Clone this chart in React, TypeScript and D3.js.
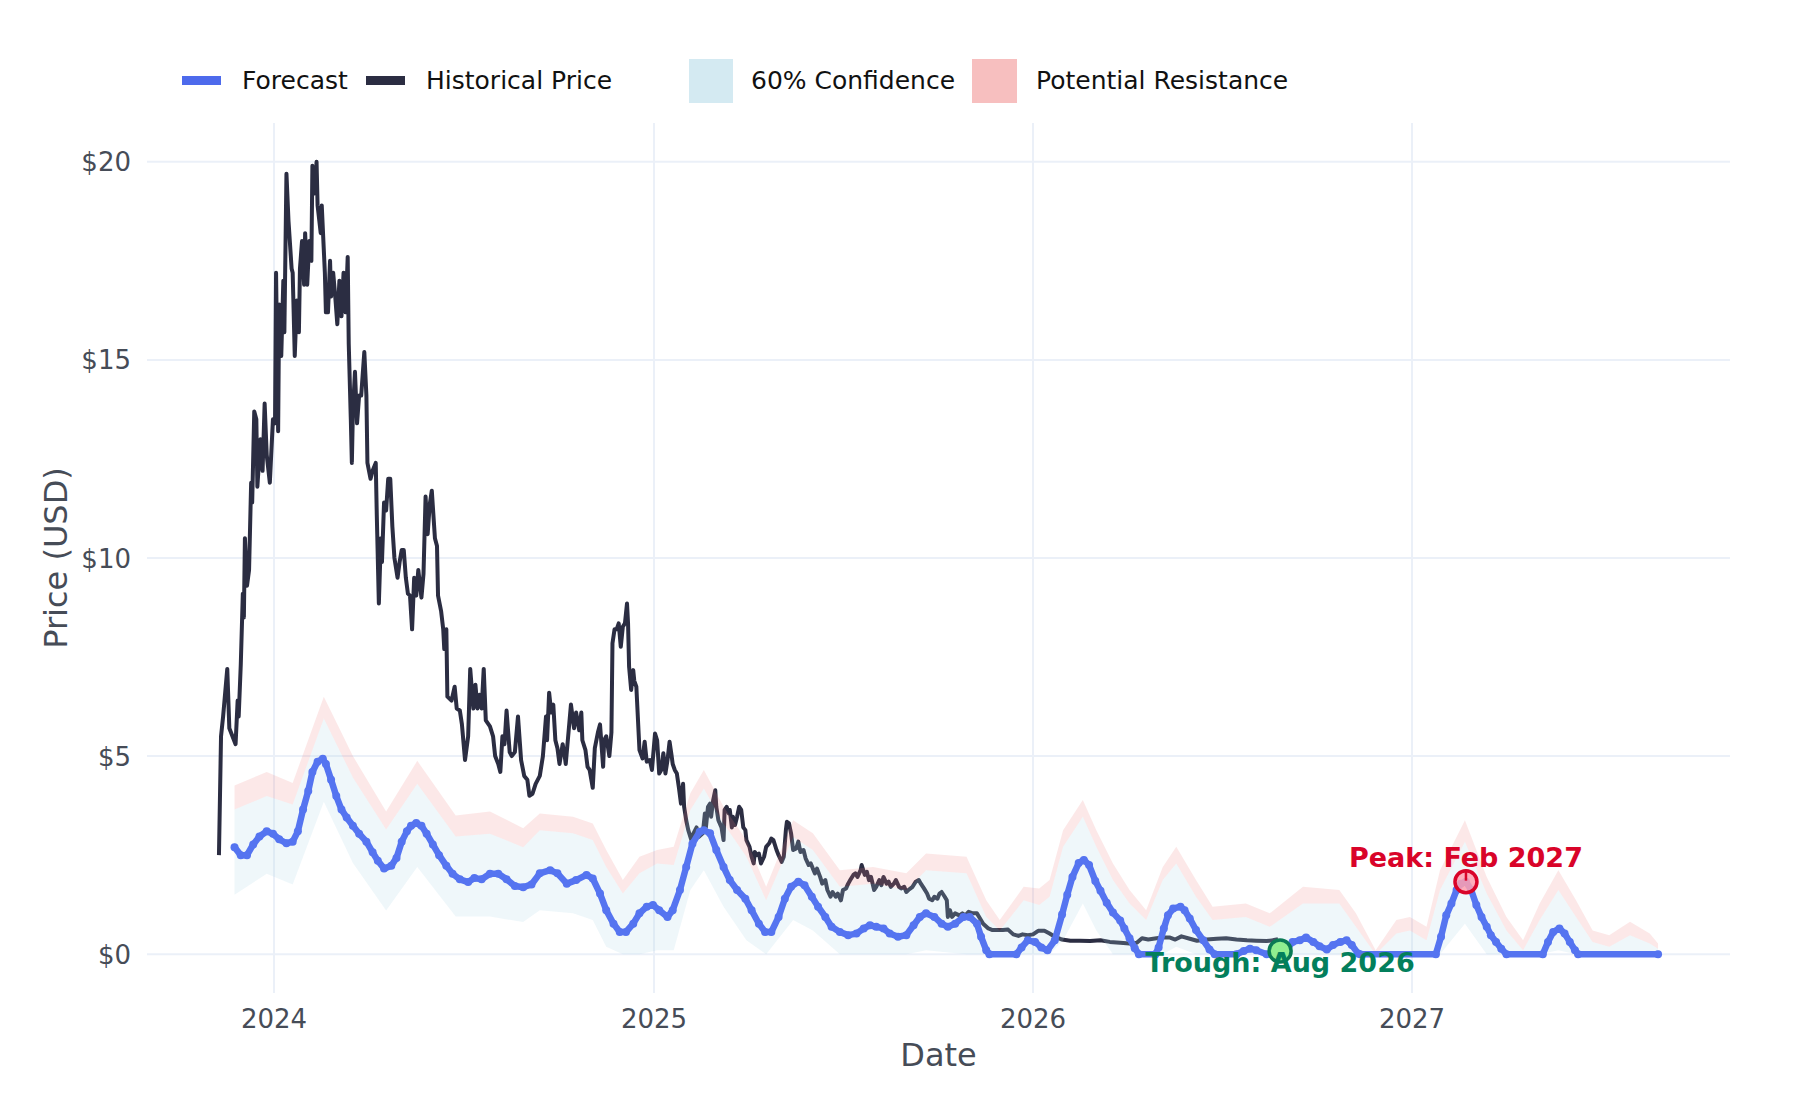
import * as d3 from 'd3';

type Point = [string, number];
// date, 60% lower, 60% upper, resistance top
type BandRow = [string, number, number, number];

const historical: Point[] = [
  ['2023-11-09', 2.5], ['2023-11-11', 5.5], ['2023-11-13', 6.0], ['2023-11-17', 7.2], ['2023-11-19', 5.7],
  ['2023-11-22', 5.5], ['2023-11-25', 5.3], ['2023-11-27', 6.4], ['2023-11-28', 6.0], ['2023-11-30', 7.3],
  ['2023-12-02', 9.1], ['2023-12-03', 8.5], ['2023-12-04', 10.5], ['2023-12-06', 9.3], ['2023-12-08', 9.7],
  ['2023-12-10', 11.9], ['2023-12-11', 11.4], ['2023-12-13', 13.7], ['2023-12-15', 13.5], ['2023-12-16', 11.8],
  ['2023-12-19', 13.0], ['2023-12-21', 12.2], ['2023-12-23', 13.9], ['2023-12-25', 12.6], ['2023-12-28', 11.9],
  ['2023-12-31', 13.5], ['2024-01-02', 13.4], ['2024-01-03', 17.2], ['2024-01-05', 13.2], ['2024-01-06', 16.4],
  ['2024-01-08', 15.1], ['2024-01-10', 17.0], ['2024-01-11', 15.7], ['2024-01-13', 19.7], ['2024-01-15', 18.5],
  ['2024-01-18', 17.3], ['2024-01-19', 17.2], ['2024-01-21', 15.1], ['2024-01-23', 16.5], ['2024-01-25', 15.7],
  ['2024-01-26', 17.3], ['2024-01-28', 18.0], ['2024-01-30', 16.9], ['2024-01-31', 18.2], ['2024-02-02', 16.9],
  ['2024-02-04', 18.0], ['2024-02-06', 17.5], ['2024-02-07', 19.9], ['2024-02-09', 19.2], ['2024-02-11', 20.0],
  ['2024-02-12', 18.9], ['2024-02-15', 18.2], ['2024-02-16', 18.9], ['2024-02-19', 17.2], ['2024-02-20', 16.2],
  ['2024-02-22', 16.2], ['2024-02-24', 17.5], ['2024-02-25', 16.6], ['2024-02-27', 17.2], ['2024-02-29', 16.6],
  ['2024-03-02', 15.9], ['2024-03-04', 17.0], ['2024-03-06', 16.1], ['2024-03-08', 17.2], ['2024-03-10', 16.2],
  ['2024-03-12', 17.6], ['2024-03-13', 15.4], ['2024-03-15', 13.5], ['2024-03-16', 12.4], ['2024-03-17', 13.7],
  ['2024-03-19', 14.7], ['2024-03-21', 13.4], ['2024-03-23', 14.1], ['2024-03-25', 14.1], ['2024-03-28', 15.2],
  ['2024-03-30', 14.1], ['2024-03-31', 12.4], ['2024-04-03', 12.0], ['2024-04-05', 12.2], ['2024-04-08', 12.4],
  ['2024-04-09', 11.1], ['2024-04-11', 8.85], ['2024-04-13', 10.5], ['2024-04-14', 9.9], ['2024-04-16', 11.4],
  ['2024-04-18', 11.2], ['2024-04-20', 12.0], ['2024-04-22', 12.0], ['2024-04-24', 10.8], ['2024-04-26', 10.0],
  ['2024-04-29', 9.5], ['2024-05-01', 9.9], ['2024-05-03', 10.2], ['2024-05-05', 10.2], ['2024-05-07', 9.5],
  ['2024-05-09', 9.1], ['2024-05-11', 9.05], ['2024-05-13', 8.2], ['2024-05-15', 9.5], ['2024-05-17', 9.05],
  ['2024-05-19', 9.7], ['2024-05-22', 9.0], ['2024-05-24', 9.6], ['2024-05-26', 11.55], ['2024-05-28', 10.6],
  ['2024-05-30', 11.35], ['2024-06-01', 11.7], ['2024-06-04', 10.5], ['2024-06-06', 10.3], ['2024-06-07', 9.05],
  ['2024-06-10', 8.65], ['2024-06-12', 8.2], ['2024-06-13', 7.7], ['2024-06-15', 8.2], ['2024-06-16', 6.5],
  ['2024-06-20', 6.4], ['2024-06-23', 6.75], ['2024-06-25', 6.2], ['2024-06-28', 6.15], ['2024-06-30', 5.8],
  ['2024-07-03', 4.9], ['2024-07-06', 5.5], ['2024-07-08', 7.2], ['2024-07-11', 6.2], ['2024-07-13', 6.8],
  ['2024-07-15', 6.2], ['2024-07-17', 6.55], ['2024-07-19', 6.2], ['2024-07-21', 7.2], ['2024-07-23', 5.9],
  ['2024-07-27', 5.75], ['2024-07-30', 5.5], ['2024-08-01', 5.0], ['2024-08-04', 4.8], ['2024-08-06', 4.6],
  ['2024-08-08', 5.5], ['2024-08-10', 5.3], ['2024-08-12', 6.15], ['2024-08-15', 5.1], ['2024-08-17', 5.0],
  ['2024-08-20', 5.1], ['2024-08-23', 6.0], ['2024-08-26', 4.9], ['2024-08-29', 4.5], ['2024-09-01', 4.4],
  ['2024-09-03', 4.0], ['2024-09-06', 4.05], ['2024-09-09', 4.3], ['2024-09-13', 4.5], ['2024-09-16', 5.0],
  ['2024-09-19', 6.0], ['2024-09-20', 5.4], ['2024-09-22', 6.6], ['2024-09-24', 6.1], ['2024-09-26', 6.3],
  ['2024-09-28', 5.4], ['2024-09-30', 5.2], ['2024-10-02', 4.8], ['2024-10-05', 5.3], ['2024-10-07', 5.0],
  ['2024-10-08', 4.8], ['2024-10-11', 5.7], ['2024-10-13', 6.3], ['2024-10-16', 5.7], ['2024-10-18', 6.1],
  ['2024-10-21', 5.65], ['2024-10-23', 6.1], ['2024-10-24', 5.4], ['2024-10-27', 5.15], ['2024-10-29', 4.73],
  ['2024-10-31', 4.65], ['2024-11-03', 4.2], ['2024-11-05', 5.2], ['2024-11-08', 5.6], ['2024-11-10', 5.8],
  ['2024-11-13', 4.73], ['2024-11-14', 5.4], ['2024-11-16', 5.5], ['2024-11-19', 5.0], ['2024-11-21', 5.6],
  ['2024-11-22', 7.85], ['2024-11-24', 8.2], ['2024-11-26', 8.2], ['2024-11-28', 8.35], ['2024-11-30', 7.76],
  ['2024-12-02', 8.27], ['2024-12-04', 8.35], ['2024-12-06', 8.85], ['2024-12-07', 8.35], ['2024-12-08', 7.26],
  ['2024-12-10', 6.67], ['2024-12-12', 7.17], ['2024-12-13', 6.9], ['2024-12-15', 6.75], ['2024-12-18', 5.15],
  ['2024-12-21', 4.94], ['2024-12-23', 5.36], ['2024-12-25', 4.86], ['2024-12-28', 4.9], ['2024-12-30', 4.65],
  ['2025-01-02', 5.57], ['2025-01-04', 5.4], ['2025-01-06', 4.56], ['2025-01-08', 4.65], ['2025-01-10', 5.07],
  ['2025-01-12', 4.56], ['2025-01-14', 4.9], ['2025-01-16', 5.36], ['2025-01-18', 5.0], ['2025-01-19', 4.8],
  ['2025-01-21', 4.65], ['2025-01-23', 4.56], ['2025-01-25', 4.2], ['2025-01-27', 3.8], ['2025-01-29', 4.3],
  ['2025-01-30', 3.72], ['2025-02-01', 3.38], ['2025-02-03', 3.13], ['2025-02-06', 2.88], ['2025-02-08', 3.05],
  ['2025-02-11', 3.2], ['2025-02-13', 2.96], ['2025-02-17', 3.05], ['2025-02-19', 3.55], ['2025-02-20', 3.2],
  ['2025-02-22', 3.72], ['2025-02-24', 3.8], ['2025-02-25', 3.47], ['2025-02-27', 3.89], ['2025-03-01', 4.14],
  ['2025-03-02', 3.72], ['2025-03-04', 3.38], ['2025-03-07', 3.2], ['2025-03-09', 2.88], ['2025-03-10', 3.64],
  ['2025-03-12', 3.72], ['2025-03-14', 3.55], ['2025-03-15', 3.64], ['2025-03-17', 3.2], ['2025-03-18', 3.47],
  ['2025-03-20', 3.26], ['2025-03-22', 3.47], ['2025-03-24', 3.72], ['2025-03-26', 3.64], ['2025-03-28', 3.2],
  ['2025-03-30', 3.13], ['2025-03-31', 2.88], ['2025-04-03', 2.71], ['2025-04-05', 2.46], ['2025-04-07', 2.29],
  ['2025-04-08', 2.58], ['2025-04-10', 2.5], ['2025-04-12', 2.54], ['2025-04-14', 2.29], ['2025-04-17', 2.46],
  ['2025-04-19', 2.71], ['2025-04-22', 2.8], ['2025-04-24', 2.92], ['2025-04-26', 2.88], ['2025-04-29', 2.63],
  ['2025-05-01', 2.5], ['2025-05-04', 2.33], ['2025-05-06', 2.46], ['2025-05-08', 3.13], ['2025-05-09', 3.34],
  ['2025-05-11', 3.3], ['2025-05-13', 3.05], ['2025-05-15', 2.63], ['2025-05-18', 2.67], ['2025-05-20', 2.84],
  ['2025-05-22', 2.58], ['2025-05-25', 2.63], ['2025-05-27', 2.42], ['2025-05-30', 2.25], ['2025-06-01', 2.29],
  ['2025-06-03', 2.16], ['2025-06-05', 2.04], ['2025-06-07', 2.16], ['2025-06-10', 1.95], ['2025-06-12', 1.78],
  ['2025-06-15', 1.87], ['2025-06-17', 1.62], ['2025-06-20', 1.45], ['2025-06-22', 1.57], ['2025-06-25', 1.45],
  ['2025-06-27', 1.53], ['2025-06-30', 1.36], ['2025-07-02', 1.62], ['2025-07-05', 1.66], ['2025-07-07', 1.78],
  ['2025-07-09', 1.87], ['2025-07-12', 2.0], ['2025-07-14', 2.04], ['2025-07-16', 1.95], ['2025-07-19', 2.12],
  ['2025-07-20', 2.25], ['2025-07-23', 2.0], ['2025-07-25', 2.08], ['2025-07-27', 1.87], ['2025-07-29', 1.95],
  ['2025-08-01', 1.62], ['2025-08-03', 1.7], ['2025-08-06', 1.87], ['2025-08-08', 1.74], ['2025-08-10', 1.95],
  ['2025-08-13', 1.78], ['2025-08-15', 1.83], ['2025-08-17', 1.7], ['2025-08-20', 1.78], ['2025-08-22', 1.87],
  ['2025-08-25', 1.7], ['2025-08-27', 1.66], ['2025-08-30', 1.7], ['2025-09-01', 1.57], ['2025-09-03', 1.62],
  ['2025-09-07', 1.7], ['2025-09-10', 1.83], ['2025-09-13', 1.87], ['2025-09-15', 1.78], ['2025-09-18', 1.66],
  ['2025-09-21', 1.53], ['2025-09-23', 1.4], ['2025-09-26', 1.36], ['2025-09-28', 1.45], ['2025-10-01', 1.4],
  ['2025-10-03', 1.53], ['2025-10-05', 1.57], ['2025-10-08', 1.45], ['2025-10-10', 1.36], ['2025-10-11', 0.94],
  ['2025-10-13', 1.11], ['2025-10-15', 0.94], ['2025-10-18', 1.03], ['2025-10-22', 0.98], ['2025-10-25', 1.03],
  ['2025-10-28', 0.98], ['2025-10-31', 1.07], ['2025-11-04', 1.03], ['2025-11-08', 1.03], ['2025-11-11', 0.9],
  ['2025-11-14', 0.77], ['2025-11-19', 0.65], ['2025-11-23', 0.61], ['2025-11-28', 0.61], ['2025-12-03', 0.61],
  ['2025-12-08', 0.62], ['2025-12-13', 0.5], ['2025-12-18', 0.46], ['2025-12-22', 0.5], ['2025-12-27', 0.48],
  ['2026-01-01', 0.5], ['2026-01-06', 0.59], ['2026-01-12', 0.59], ['2026-01-17', 0.52], ['2026-01-22', 0.44],
  ['2026-01-29', 0.37], ['2026-02-06', 0.34], ['2026-02-15', 0.34], ['2026-02-25', 0.33], ['2026-03-07', 0.35],
  ['2026-03-16', 0.31], ['2026-03-26', 0.29], ['2026-04-04', 0.27], ['2026-04-11', 0.29], ['2026-04-16', 0.4],
  ['2026-04-22', 0.37], ['2026-04-30', 0.4], ['2026-05-06', 0.42], ['2026-05-13', 0.42], ['2026-05-18', 0.37],
  ['2026-05-24', 0.45], ['2026-06-01', 0.39], ['2026-06-08', 0.34], ['2026-06-17', 0.37], ['2026-06-27', 0.39],
  ['2026-07-06', 0.4], ['2026-07-16', 0.37], ['2026-07-26', 0.35], ['2026-08-04', 0.34], ['2026-08-14', 0.33],
  ['2026-08-20', 0.35], ['2026-08-25', 0.38],
];

const forecast: Point[] = [
  ['2023-11-24', 2.7], ['2023-11-30', 2.5], ['2023-12-06', 2.5], ['2023-12-12', 2.77], ['2023-12-18', 2.97],
  ['2023-12-25', 3.1], ['2023-12-31', 3.04], ['2024-01-06', 2.9], ['2024-01-13', 2.8], ['2024-01-19', 2.84],
  ['2024-01-24', 3.1], ['2024-01-29', 3.65], ['2024-02-03', 4.12], ['2024-02-07', 4.6], ['2024-02-12', 4.86],
  ['2024-02-17', 4.93], ['2024-02-20', 4.8], ['2024-02-25', 4.4], ['2024-03-01', 3.99], ['2024-03-06', 3.65],
  ['2024-03-11', 3.45], ['2024-03-17', 3.24], ['2024-03-23', 3.04], ['2024-03-30', 2.84], ['2024-04-05', 2.57],
  ['2024-04-10', 2.36], ['2024-04-16', 2.16], ['2024-04-23', 2.23], ['2024-04-28', 2.43], ['2024-05-03', 2.84],
  ['2024-05-08', 3.1], ['2024-05-12', 3.24], ['2024-05-17', 3.31], ['2024-05-22', 3.24], ['2024-05-27', 3.04],
  ['2024-06-02', 2.77], ['2024-06-08', 2.5], ['2024-06-15', 2.23], ['2024-06-21', 2.03], ['2024-06-28', 1.89],
  ['2024-07-06', 1.82], ['2024-07-12', 1.92], ['2024-07-19', 1.89], ['2024-07-27', 2.03], ['2024-08-04', 2.03],
  ['2024-08-12', 1.89], ['2024-08-20', 1.72], ['2024-08-28', 1.69], ['2024-09-05', 1.76], ['2024-09-13', 2.04],
  ['2024-09-23', 2.12], ['2024-09-30', 2.04], ['2024-10-09', 1.78], ['2024-10-18', 1.87], ['2024-10-28', 2.0],
  ['2024-11-03', 1.91], ['2024-11-10', 1.53], ['2024-11-16', 1.11], ['2024-11-23', 0.77], ['2024-11-29', 0.56],
  ['2024-12-05', 0.56], ['2024-12-12', 0.77], ['2024-12-18', 1.03], ['2024-12-25', 1.2], ['2024-12-31', 1.24],
  ['2025-01-06', 1.11], ['2025-01-14', 0.94], ['2025-01-19', 1.11], ['2025-01-26', 1.62], ['2025-02-01', 2.2],
  ['2025-02-07', 2.79], ['2025-02-14', 3.09], ['2025-02-18', 3.13], ['2025-02-24', 3.05], ['2025-03-02', 2.63],
  ['2025-03-09', 2.2], ['2025-03-15', 1.87], ['2025-03-22', 1.62], ['2025-03-30', 1.4], ['2025-04-05', 1.11],
  ['2025-04-12', 0.77], ['2025-04-18', 0.56], ['2025-04-24', 0.56], ['2025-05-01', 0.94], ['2025-05-07', 1.4],
  ['2025-05-13', 1.7], ['2025-05-20', 1.83], ['2025-05-26', 1.74], ['2025-06-02', 1.45], ['2025-06-08', 1.2],
  ['2025-06-15', 0.94], ['2025-06-21', 0.69], ['2025-06-29', 0.56], ['2025-07-07', 0.48], ['2025-07-15', 0.52],
  ['2025-07-22', 0.65], ['2025-07-28', 0.73], ['2025-08-03', 0.69], ['2025-08-10', 0.65], ['2025-08-16', 0.52],
  ['2025-08-24', 0.44], ['2025-09-01', 0.48], ['2025-09-08', 0.73], ['2025-09-14', 0.94], ['2025-09-20', 1.03],
  ['2025-09-28', 0.94], ['2025-10-05', 0.77], ['2025-10-11', 0.69], ['2025-10-18', 0.77], ['2025-10-26', 0.94],
  ['2025-11-01', 0.94], ['2025-11-08', 0.77], ['2025-11-12', 0.44], ['2025-11-17', 0.1], ['2025-11-20', 0],
  ['2025-12-16', 0], ['2025-12-21', 0.17], ['2025-12-27', 0.35], ['2026-01-03', 0.31], ['2026-01-09', 0.17],
  ['2026-01-15', 0.1], ['2026-01-22', 0.35], ['2026-01-29', 1.0], ['2026-02-03', 1.5], ['2026-02-08', 1.95],
  ['2026-02-14', 2.3], ['2026-02-19', 2.38], ['2026-02-24', 2.25], ['2026-03-02', 1.85], ['2026-03-07', 1.6],
  ['2026-03-13', 1.3], ['2026-03-19', 1.05], ['2026-03-26', 0.85], ['2026-03-30', 0.65], ['2026-04-04', 0.4],
  ['2026-04-09', 0.15], ['2026-04-13', 0], ['2026-04-29', 0], ['2026-05-02', 0.17], ['2026-05-07', 0.65],
  ['2026-05-11', 0.98], ['2026-05-16', 1.15], ['2026-05-23', 1.2], ['2026-05-27', 1.11], ['2026-06-01', 0.9],
  ['2026-06-07', 0.61], ['2026-06-14', 0.35], ['2026-06-20', 0.12], ['2026-06-25', 0], ['2026-07-16', 0],
  ['2026-07-23', 0.08], ['2026-07-29', 0.14], ['2026-08-04', 0.1], ['2026-08-14', 0], ['2026-08-23', 0],
  ['2026-09-02', 0.1], ['2026-09-08', 0.31], ['2026-09-15', 0.35], ['2026-09-21', 0.42], ['2026-09-28', 0.31],
  ['2026-10-04', 0.2], ['2026-10-11', 0.12], ['2026-10-17', 0.23], ['2026-10-24', 0.31], ['2026-10-30', 0.35],
  ['2026-11-04', 0.23], ['2026-11-10', 0.02], ['2026-11-12', 0], ['2027-01-24', 0], ['2027-01-29', 0.44],
  ['2027-02-03', 0.98], ['2027-02-08', 1.28], ['2027-02-13', 1.62], ['2027-02-17', 1.78], ['2027-02-22', 1.83],
  ['2027-02-27', 1.62], ['2027-03-04', 1.24], ['2027-03-09', 0.94], ['2027-03-14', 0.69], ['2027-03-18', 0.48],
  ['2027-03-23', 0.31], ['2027-03-28', 0.14], ['2027-04-02', 0], ['2027-05-07', 0], ['2027-05-12', 0.31],
  ['2027-05-17', 0.56], ['2027-05-23', 0.65], ['2027-05-28', 0.52], ['2027-06-02', 0.31], ['2027-06-07', 0.1],
  ['2027-06-10', 0], ['2027-08-26', 0],
];

const bands: BandRow[] = [
  ['2023-11-24', 1.5, 3.65, 4.26], ['2023-12-25', 2.03, 3.99, 4.6], ['2024-01-19', 1.76, 3.78, 4.32],
  ['2024-02-18', 3.85, 5.95, 6.5], ['2024-03-17', 2.3, 4.46, 5.0], ['2024-04-18', 1.1, 3.15, 3.6],
  ['2024-05-18', 2.2, 4.3, 4.88], ['2024-06-24', 0.95, 2.97, 3.5], ['2024-07-27', 0.95, 3.04, 3.6],
  ['2024-08-28', 0.81, 2.7, 3.18], ['2024-09-13', 1.11, 3.13, 3.55], ['2024-10-15', 1.03, 3.05, 3.47],
  ['2024-11-03', 0.86, 2.88, 3.3], ['2024-11-16', 0.19, 2.2, 2.63], ['2024-12-02', 0, 1.53, 1.87],
  ['2024-12-18', 0, 2.04, 2.46], ['2025-01-04', 0.1, 2.29, 2.63], ['2025-01-20', 0.1, 2.25, 2.71],
  ['2025-02-05', 1.62, 3.64, 4.06], ['2025-02-18', 2.12, 4.18, 4.65], ['2025-03-09', 1.2, 3.3, 3.72],
  ['2025-03-31', 0.35, 2.46, 2.88], ['2025-04-19', 0, 1.36, 1.7], ['2025-05-15', 0.86, 2.96, 3.38],
  ['2025-06-03', 0.6, 2.63, 3.05], ['2025-06-29', 0, 1.7, 2.12], ['2025-07-31', 0, 1.78, 2.2],
  ['2025-09-01', 0, 1.62, 2.04], ['2025-09-20', 0.1, 2.12, 2.54], ['2025-10-29', 0, 2.04, 2.46],
  ['2025-11-17', 0, 0.94, 1.36], ['2025-11-30', 0, 0.6, 0.86], ['2025-12-23', 0, 1.36, 1.7],
  ['2026-01-07', 0, 1.24, 1.66], ['2026-01-17', 0, 1.45, 1.87], ['2026-01-30', 0.35, 2.71, 3.13],
  ['2026-02-18', 1.28, 3.47, 3.89], ['2026-03-03', 0.6, 2.71, 3.13], ['2026-03-19', 0, 1.87, 2.29],
  ['2026-04-04', 0, 1.28, 1.62], ['2026-04-20', 0, 0.86, 1.11], ['2026-05-06', 0, 1.87, 2.2],
  ['2026-05-19', 0.19, 2.29, 2.71], ['2026-06-07', 0, 1.45, 1.87], ['2026-06-23', 0, 0.86, 1.2],
  ['2026-07-25', 0, 0.94, 1.28], ['2026-08-17', 0, 0.69, 1.03], ['2026-09-18', 0, 1.28, 1.7],
  ['2026-10-23', 0, 1.28, 1.62], ['2026-11-08', 0, 0.69, 1.03], ['2026-11-27', 0, 0, 0.1],
  ['2026-12-17', 0, 0.52, 0.86], ['2026-12-30', 0, 0.6, 0.94], ['2027-01-15', 0, 0.35, 0.69],
  ['2027-01-28', 0, 1.62, 2.12], ['2027-02-21', 0.77, 2.84, 3.38], ['2027-03-14', 0, 1.53, 1.95],
  ['2027-04-02', 0, 0.6, 0.94], ['2027-04-18', 0, 0.1, 0.35], ['2027-05-04', 0, 0.86, 1.28],
  ['2027-05-22', 0.1, 1.62, 2.12], ['2027-06-08', 0, 0.94, 1.36], ['2027-06-24', 0, 0.31, 0.6],
  ['2027-07-10', 0, 0.19, 0.48], ['2027-07-30', 0, 0.48, 0.82], ['2027-08-18', 0, 0.27, 0.52],
  ['2027-08-26', 0, 0.14, 0.27],
];

const yTicks = [0, 5, 10, 15, 20];
const xTicks = ['2024-01-01', '2025-01-01', '2026-01-01', '2027-01-01'];

const peak = { date: '2027-02-22', value: 1.83, label: 'Peak: Feb 2027' };
const trough = { date: '2026-08-27', value: 0.08, label: 'Trough: Aug 2026' };

const FONT = '"DejaVu Sans", sans-serif';
const HIST = '#2b2d42';
const FORECAST = '#5574f0';
const GRID = '#ebf0f8';
const AXIS_TEXT = '#464c57';

export default function App(): JSX.Element {
  const width = 1800;
  const height = 1100;
  const left = 147;
  const right = 1730;
  const top = 123;
  const bottom = 993;

  const parse = d3.timeParse('%Y-%m-%d');
  const hist = historical.map(([d, v]) => ({ date: parse(d) as Date, value: v }));
  const fc = forecast.map(([d, v]) => ({ date: parse(d) as Date, value: v }));
  const band = bands.map(([d, lo, hi, res]) => ({ date: parse(d) as Date, lo, hi, res }));

  const [d0, d1] = d3.extent([...hist, ...fc], (d) => d.date) as [Date, Date];
  const pad = (+d1 - +d0) * 0.05;
  const x = d3
    .scaleTime()
    .domain([new Date(+d0 - pad), new Date(+d1 + pad)])
    .range([left, right]);

  const yMax = d3.max(hist, (d) => d.value) as number;
  const y = d3
    .scaleLinear()
    .domain([-yMax * 0.049, yMax * 1.049])
    .range([bottom, top]);

  const line = d3
    .line<{ date: Date; value: number }>()
    .x((d) => x(d.date))
    .y((d) => y(d.value));

  type B = { date: Date; lo: number; hi: number; res: number };
  const confArea = d3
    .area<B>()
    .x((d) => x(d.date))
    .y0((d) => y(d.lo))
    .y1((d) => y(d.hi));
  const resArea = d3
    .area<B>()
    .x((d) => x(d.date))
    .y0((d) => y(d.hi))
    .y1((d) => y(d.res));

  const px = x(parse(peak.date) as Date);
  const py = y(peak.value);
  const tx = x(parse(trough.date) as Date);
  const ty = y(trough.value);

  return (
    <svg
      xmlns="http://www.w3.org/2000/svg"
      width={width}
      height={height}
      style={{ position: 'absolute', left: 0, top: 0, display: 'block', background: '#fff' }}
      fontFamily={FONT}
    >
      <rect width={width} height={height} fill="#fff" />

      {/* grid */}
      {xTicks.map((t) => (
        <line
          key={t}
          x1={x(parse(t) as Date)}
          x2={x(parse(t) as Date)}
          y1={top}
          y2={bottom}
          stroke={GRID}
          strokeWidth={2}
        />
      ))}
      {yTicks.map((t) => (
        <line key={t} x1={left} x2={right} y1={y(t)} y2={y(t)} stroke={GRID} strokeWidth={2} />
      ))}

      {/* tick labels */}
      {yTicks.map((t) => (
        <text key={t} x={131} y={y(t) + 9.5} textAnchor="end" fontSize={26} fill={AXIS_TEXT}>
          {`$${t}`}
        </text>
      ))}
      {xTicks.map((t) => (
        <text key={t} x={x(parse(t) as Date)} y={1028} textAnchor="middle" fontSize={26} fill={AXIS_TEXT}>
          {t.slice(0, 4)}
        </text>
      ))}

      {/* axis titles */}
      <text x={(left + right) / 2} y={1066} textAnchor="middle" fontSize={32} fill={AXIS_TEXT}>
        Date
      </text>
      <text
        transform={`translate(67,${(top + bottom) / 2}) rotate(-90)`}
        textAnchor="middle"
        fontSize={32}
        fill={AXIS_TEXT}
      >
        Price (USD)
      </text>

      {/* series */}
      <path d={line(hist) as string} fill="none" stroke={HIST} strokeWidth={4} strokeLinejoin="round" />
      <path d={confArea(band) as string} fill="rgba(173,216,230,0.2)" />
      <path d={resArea(band) as string} fill="rgba(240,128,128,0.18)" />
      <path
        d={line(fc) as string}
        fill="none"
        stroke={FORECAST}
        strokeWidth={6.5}
        strokeLinejoin="round"
        strokeLinecap="round"
      />
      {fc.map((d, i) => (
        <circle key={i} cx={x(d.date)} cy={y(d.value)} r={4} fill={FORECAST} />
      ))}

      {/* peak annotation */}
      <circle cx={px} cy={py} r={11} fill="rgba(255,160,175,0.85)" stroke="#d90429" strokeWidth={3.5} />
      <line x1={px} x2={px} y1={py - 11} y2={py - 1} stroke="#d90429" strokeWidth={2.5} />
      <text x={px} y={py - 15} textAnchor="middle" fontSize={27} fontWeight="bold" fill="#d90429">
        {peak.label}
      </text>

      {/* trough annotation */}
      <circle cx={tx} cy={ty} r={11} fill="#90ee90" stroke="#0b7a55" strokeWidth={3.5} />
      <text x={tx} y={ty + 21} textAnchor="middle" fontSize={27} fontWeight="bold" fill="#037f5c">
        {trough.label}
      </text>

      {/* legend */}
      <g fontSize={25} fill="#111">
        <line x1={182} x2={221} y1={80.5} y2={80.5} stroke="#4d6aec" strokeWidth={9} />
        <text x={242} y={89}>Forecast</text>
        <line x1={366} x2={405} y1={80.5} y2={80.5} stroke={HIST} strokeWidth={9} />
        <text x={426} y={89}>Historical Price</text>
        <rect x={689} y={59} width={44} height={44} fill="rgba(173,216,230,0.53)" />
        <text x={751} y={89}>60% Confidence</text>
        <rect x={972} y={59} width={45} height={44} fill="rgba(240,128,128,0.5)" />
        <text x={1036} y={89}>Potential Resistance</text>
      </g>
    </svg>
  );
}
